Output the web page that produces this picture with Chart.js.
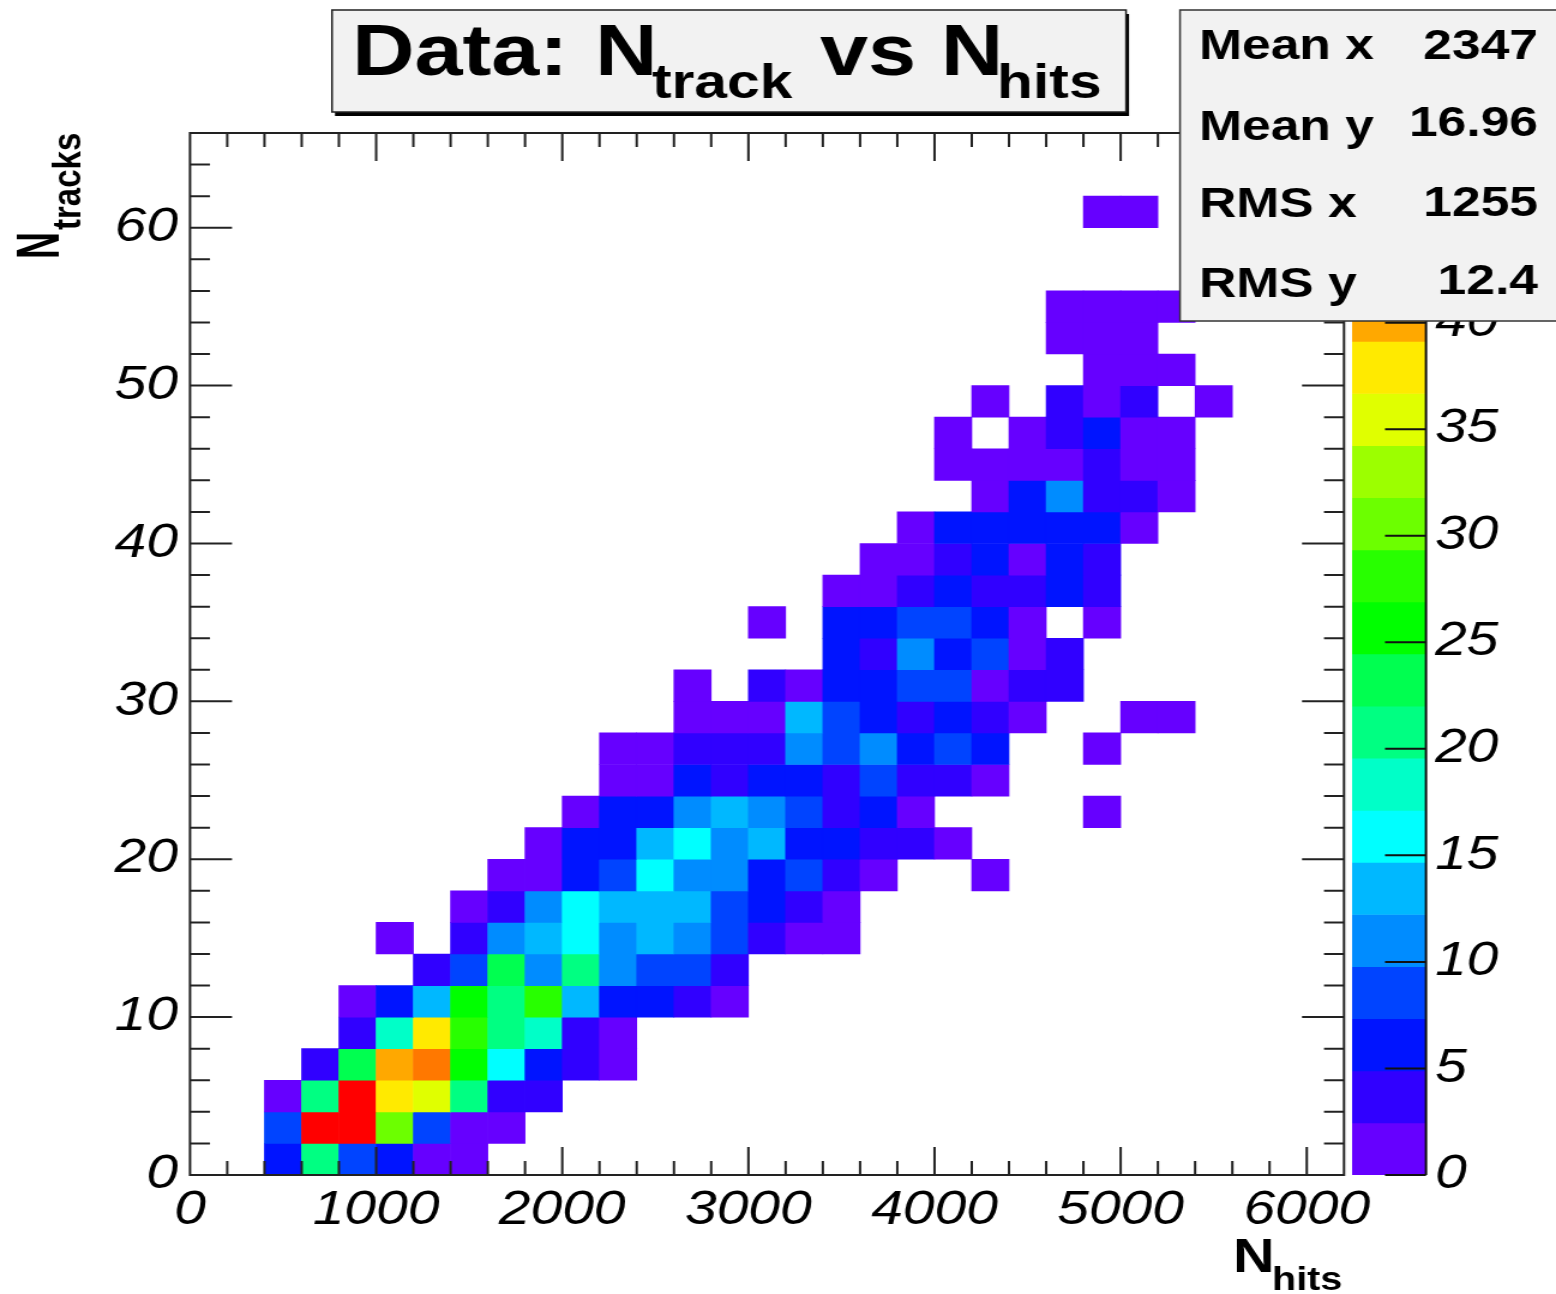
<!DOCTYPE html>
<html>
<head>
<meta charset="utf-8">
<title>Data: Ntrack vs Nhits</title>
<style>
html,body{margin:0;padding:0;background:#fff;width:1556px;height:1294px;overflow:hidden}
.layer{position:absolute;left:0;top:0;transform-origin:0 0}
</style>
<script src="https://cdn.jsdelivr.net/npm/chart.js@4/dist/chart.umd.js"></script>
</head>
<body>
<div class="layer" id="barLayer"><canvas id="bar" width="1297" height="1294"></canvas></div>
<div class="layer" id="mainLayer"><canvas id="main" width="1297" height="1294"></canvas></div>
<script>
// ---------- data ----------
const binWidthX = 200;
const binHeightY = 2;
const zMax = 48.9;
const nLevels = 20;
const palette = ['#6600ff','#3000ff','#0014ff','#0044ff','#008cff','#00b8ff','#00ffff','#00ffc8','#00ff82','#00ff50',
                 '#00ff00','#28ff00','#6cff00','#9cff00','#e0ff00','#ffea00','#ffa800','#ff7800','#ff3c00','#ff0000'];
// first occupied x-bin of each y-bin (y-bin width 2 tracks, x-bin width 200 hits)
const rowFirstBin = [2,2,2,3,4,4,6,5,7,8,9,10,11,11,13,13,17,15,17,18,19,21,20,20,21,24,23,23,0,0,24];
// counts per x-bin, 0 = empty
const rowCounts = [
 [6,21,8,6,1,1],
 [8,48,48,31,8,1,1],
 [1,21,48,38,35,21,3,3],
 [3,23,40,43,25,16,6,3,1],
 [3,18,38,28,21,18,3,1],
 [1,6,13,25,21,28,13,6,6,3,1],
 [3,8,23,11,21,11,8,8,3],
 [1,0,3,11,13,16,11,13,11,8,3,1,1],
 [1,3,11,16,13,13,13,8,6,3,1],
 [1,1,6,8,16,11,11,6,8,3,1,0,0,1],
 [1,6,6,13,16,11,13,6,6,3,3,1],
 [1,6,6,11,13,11,8,3,6,1,0,0,0,0,1],
 [1,1,6,3,6,6,3,8,3,3,1],
 [1,1,3,3,3,11,8,11,6,8,6,0,0,1],
 [1,1,1,13,8,6,3,6,3,1,0,0,1,1],
 [1,0,3,1,6,6,8,8,1,3,3],
 [6,3,11,6,8,1,3],
 [1,0,6,6,8,8,6,1,0,1],
 [1,1,3,6,3,3,6,3],
 [1,1,3,6,1,6,3],
 [1,6,6,6,6,6,1],
 [1,6,11,3,3,1],
 [1,1,1,1,3,1,1],
 [1,0,1,3,6,1,1],
 [1,0,3,1,3,0,1],
 [1,1,1],
 [1,1,1],
 [1,1,1,1],
 [],
 [],
 [1,1]
];
const xTickValues = [0,1000,2000,3000,4000,5000,6000];
const yTickValues = [0,10,20,30,40,50,60];
const zTickValues = [0,5,10,15,20,25,30,35,40,45];
const statLabels = ['Mean x','Mean y','RMS x','RMS y'];
const statValues = ['2347','16.96','1255','12.4'];

// ---------- layout (screen pixels) ----------
const CW = 1297, SX = 1556 / CW;
const px = v => v / SX;
const plot = {l:190, r:1344, t:133, b:1175};
const FONT = '"Liberation Sans", Arial, sans-serif';
document.getElementById('mainLayer').style.transform = 'scaleX(' + SX + ')';
document.getElementById('barLayer').style.transform = 'scaleX(' + SX + ')';

const colorFor = z => palette[Math.min(nLevels - 1, Math.floor(z / zMax * nLevels))];
const plainLabel = v => String(v);

const cells = [];
rowCounts.forEach((row, j) => {
  row.forEach((z, k) => {
    if (z > 0) {
      const i = rowFirstBin[j] + k;
      cells.push({x:(i + 0.5) * binWidthX, y:[j * binHeightY, (j + 1) * binHeightY], z});
    }
  });
});
const levelBars = palette.map((c, k) => ({x:0.5, y:[k * zMax / nLevels, (k + 1) * zMax / nLevels], z:(k + 0.5) * zMax / nLevels}));

function txt(ctx, s, x, y, size, bold, align) {
  ctx.font = (bold ? 'bold ' : '') + size + 'px ' + FONT;
  ctx.textAlign = align || 'left';
  ctx.textBaseline = 'alphabetic';
  ctx.fillStyle = '#000';
  ctx.fillText(s, px(x), y);
}

const frameAndText = {
  id:'frameAndText',
  afterDatasetsDraw(chart) {
    const ctx = chart.ctx, xs = chart.scales.x, ys = chart.scales.y;
    const a = chart.chartArea;
    ctx.save();
    ctx.strokeStyle = '#222';
    ctx.lineWidth = 2;
    ctx.beginPath();
    ctx.rect(a.left, a.top, a.right - a.left, a.bottom - a.top);
    for (let v = 200; v <= 6000; v += 200) {
      const p = xs.getPixelForValue(v), L = v % 1000 === 0 ? 28 : 14;
      ctx.moveTo(p, a.bottom); ctx.lineTo(p, a.bottom - L);
      ctx.moveTo(p, a.top); ctx.lineTo(p, a.top + L);
    }
    for (let v = 2; v <= 64; v += 2) {
      const p = ys.getPixelForValue(v), L = px(v % 10 === 0 ? 42 : 20);
      ctx.moveTo(a.left, p); ctx.lineTo(a.left + L, p);
      ctx.moveTo(a.right, p); ctx.lineTo(a.right - L, p);
    }
    ctx.stroke();

    // axis titles
    txt(ctx, 'N', 1233, 1272, 48, true);
    txt(ctx, 'hits', 1272, 1290, 33, true);
    ctx.save();
    ctx.translate(px(59), 259);
    ctx.rotate(-Math.PI / 2);
    ctx.fillStyle = '#000'; ctx.textAlign = 'left'; ctx.textBaseline = 'alphabetic';
    ctx.save();
    ctx.scale(0.75, 1);
    ctx.font = 'bold 50px ' + FONT;
    ctx.fillText('N', 0, 0);
    ctx.restore();
    ctx.font = 'bold 33px ' + FONT;
    ctx.fillText('tracks', 29, 18);
    ctx.restore();

    // title box
    ctx.fillStyle = '#000';
    ctx.fillRect(px(335), 14, px(794), 102);
    ctx.fillStyle = '#f2f2f2';
    ctx.fillRect(px(332), 10, px(794), 102);
    ctx.strokeStyle = '#222'; ctx.lineWidth = 1.5;
    ctx.strokeRect(px(332), 10, px(794), 102);
    txt(ctx, 'Data:', 352, 75, 72, true);
    txt(ctx, 'N', 595, 75, 72, true);
    txt(ctx, 'track', 652, 98, 49, true);
    txt(ctx, 'vs', 820, 75, 72, true);
    txt(ctx, 'N', 941, 75, 72, true);
    txt(ctx, 'hits', 997, 98, 49, true);

    // statistics box
    ctx.fillStyle = '#f2f2f2';
    ctx.fillRect(px(1180), 10, px(380), 311);
    ctx.strokeStyle = '#333'; ctx.lineWidth = 1.5;
    ctx.strokeRect(px(1180), 10, px(380), 311);
    const labelBase = [59, 140, 217, 297], valueBase = [59, 136, 216, 294];
    statLabels.forEach((s, i) => txt(ctx, s, 1199, labelBase[i], 43, true));
    statValues.forEach((s, i) => txt(ctx, s, 1538, valueBase[i], 43, true, 'right'));
    ctx.restore();
  }
};

const barTicks = {
  id:'barTicks',
  afterDatasetsDraw(chart) {
    const ctx = chart.ctx, zs = chart.scales.y, a = chart.chartArea;
    ctx.save();
    ctx.strokeStyle = '#111'; ctx.lineWidth = 2;
    ctx.beginPath();
    ctx.moveTo(a.right, a.top); ctx.lineTo(a.right, a.bottom);
    zTickValues.forEach(v => {
      const p = zs.getPixelForValue(v);
      ctx.moveTo(a.right, p); ctx.lineTo(a.right - px(41), p);
    });
    ctx.stroke();
    ctx.restore();
  }
};

Chart.defaults.animation = false;
Chart.defaults.responsive = false;
const quiet = {legend:{display:false}, tooltip:{enabled:false}, title:{display:false}};
const tickFont = {family:FONT, size:47.5, style:'italic', weight:'normal'};

new Chart(document.getElementById('bar'), {
  type:'bar',
  data:{datasets:[{data:levelBars, borderWidth:0, barPercentage:1, categoryPercentage:1,
    backgroundColor:c => colorFor(c.raw.z)}]},
  options:{
    devicePixelRatio:1, plugins:quiet,
    layout:{padding:{left:px(1352), right:0, top:plot.t, bottom:1294 - plot.b}},
    scales:{
      x:{type:'linear', min:0, max:1, display:false, offset:false},
      y:{type:'linear', position:'right', min:0, max:zMax,
        afterBuildTicks:s => { s.ticks = zTickValues.map(v => ({value:v})); },
        afterFit:s => { s.width = px(1556 - 1426); },
        grid:{display:false, drawTicks:false}, border:{display:false},
        ticks:{font:tickFont, color:'#000', padding:px(9), autoSkip:false, maxRotation:0, callback:plainLabel}}
    }
  },
  plugins:[barTicks]
});

new Chart(document.getElementById('main'), {
  type:'bar',
  data:{datasets:[{data:cells, borderWidth:0, barPercentage:1, categoryPercentage:1,
    backgroundColor:c => colorFor(c.raw.z)}]},
  options:{
    devicePixelRatio:1, plugins:quiet,
    layout:{padding:{left:0, right:px(1556 - plot.r), top:plot.t, bottom:0}},
    scales:{
      x:{type:'linear', min:0, max:6200, offset:false,
        afterBuildTicks:s => { s.ticks = xTickValues.map(v => ({value:v})); },
        afterFit:s => { s.height = 1294 - plot.b; },
        grid:{display:false, drawTicks:false}, border:{display:false},
        ticks:{font:tickFont, color:'#000', padding:7, autoSkip:false, maxRotation:0, callback:plainLabel}},
      y:{type:'linear', min:0, max:66,
        afterBuildTicks:s => { s.ticks = yTickValues.map(v => ({value:v})); },
        afterFit:s => { s.width = px(plot.l); },
        grid:{display:false, drawTicks:false}, border:{display:false},
        ticks:{font:tickFont, color:'#000', padding:px(12), autoSkip:false, callback:plainLabel}}
    }
  },
  plugins:[frameAndText]
});
</script>
</body>
</html>
